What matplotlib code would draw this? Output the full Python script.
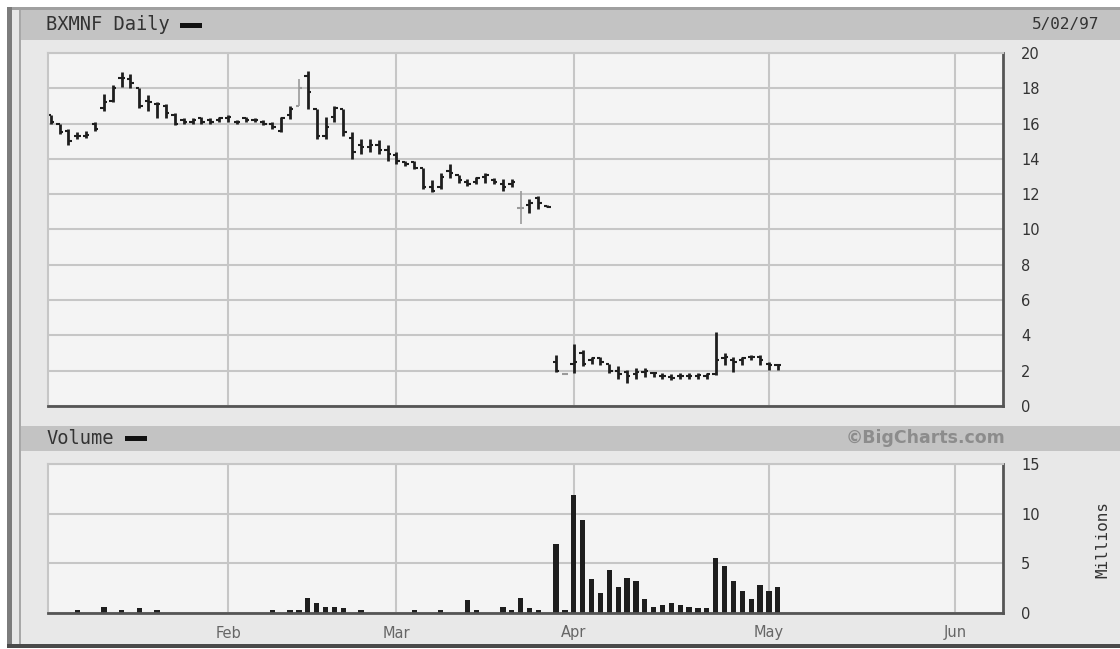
import matplotlib
matplotlib.use("Agg")
import matplotlib.pyplot as plt
from matplotlib.patches import Rectangle
import numpy as np

W, H = 1120, 649

# one value per trading day, day 0 = Jan 6 1997 ... day 82 = May 2 1997
high = [16.5, 16.0, 15.7, 15.5, 15.6, 16.1, 17.7, 18.2, 18.9, 18.8,
        18.0, 17.6, 17.2, 17.1, 16.6, 16.3, 16.3, 16.4, 16.3, 16.4,
        16.5, 16.2, 16.4, 16.3, 16.2, 16.1, 16.4, 17.0, 18.5, 19.0,
        16.8, 16.4, 17.0, 16.8, 15.5, 15.1, 15.1, 15.05, 14.8, 14.4,
        13.9, 13.9, 13.5, 12.8, 13.2, 13.7, 13.1, 12.85, 13.0, 13.2,
        12.9, 12.85, 12.85, 12.2, 11.7, 11.9, 11.4, 2.9, 1.85, 3.5,
        3.2, 2.8, 2.8, 2.4, 2.25, 2.05, 2.15, 2.15, 1.95, 1.85,
        1.8, 1.85, 1.85, 1.85, 1.85, 4.2, 3.0, 2.8, 2.8, 2.9,
        2.9, 2.5, 2.4]
low = [16.0, 15.4, 14.8, 15.1, 15.2, 15.6, 16.7, 17.2, 18.1, 18.0,
       16.9, 16.7, 16.3, 16.3, 15.9, 16.0, 16.0, 16.0, 16.0, 16.1,
       16.1, 16.0, 16.1, 16.1, 15.9, 15.7, 15.5, 16.25, 17.0, 16.8,
       15.1, 15.1, 16.1, 15.3, 14.0, 14.3, 14.4, 14.3, 13.9, 13.7,
       13.6, 13.4, 12.3, 12.1, 12.3, 12.9, 12.65, 12.45, 12.6, 12.65,
       12.55, 12.2, 12.4, 10.3, 10.95, 11.15, 11.25, 1.95, 1.75, 1.85,
       2.25, 2.4, 2.35, 1.85, 1.55, 1.3, 1.55, 1.65, 1.65, 1.55,
       1.5, 1.55, 1.55, 1.55, 1.55, 1.75, 2.35, 1.95, 2.35, 2.6,
       2.35, 2.05, 2.05]
opn = [16.5, 16.0, 15.6, 15.3, 15.3, 16.0, 16.9, 17.3, 18.6, 18.5,
       18.0, 17.3, 17.1, 17.0, 16.5, 16.2, 16.1, 16.3, 16.2, 16.2,
       16.3, 16.1, 16.3, 16.2, 16.1, 16.0, 15.6, 16.5, 17.0, 18.7,
       16.8, 15.3, 16.4, 16.8, 15.2, 14.8, 14.7, 14.8, 14.5, 14.2,
       13.8, 13.8, 13.5, 12.4, 12.4, 13.3, 13.1, 12.7, 12.7, 13.0,
       12.8, 12.6, 12.6, 11.2, 11.4, 11.8, 11.35, 2.5, 1.8, 2.4,
       3.0, 2.6, 2.7, 2.4, 2.0, 1.9, 1.8, 1.9, 1.85, 1.7,
       1.65, 1.7, 1.7, 1.7, 1.7, 1.8, 2.7, 2.6, 2.6, 2.8,
       2.8, 2.4, 2.3]
close = [16.1, 15.5, 15.0, 15.3, 15.35, 15.7, 17.2, 18.0, 18.6, 18.3,
         17.0, 17.2, 17.1, 16.6, 16.0, 16.1, 16.2, 16.1, 16.1, 16.3,
         16.4, 16.1, 16.2, 16.2, 16.0, 15.8, 16.3, 16.8, 18.0, 17.8,
         15.3, 15.8, 16.9, 15.5, 14.4, 14.7, 14.8, 14.5, 14.3, 13.9,
         13.7, 13.5, 12.4, 12.2, 13.0, 13.2, 12.8, 12.6, 12.9, 13.1,
         12.7, 12.4, 12.7, 11.2, 11.5, 11.5, 11.3, 2.0, 1.8, 2.5,
         2.4, 2.7, 2.5, 2.0, 1.8, 1.7, 1.9, 2.0, 1.85, 1.7,
         1.6, 1.7, 1.7, 1.75, 1.8, 2.6, 2.8, 2.5, 2.7, 2.8,
         2.6, 2.3, 2.3]
# millions of shares
volume = [0, 0, 0, 0.3, 0, 0, 0.6, 0, 0.3, 0,
          0.55, 0, 0.3, 0, 0, 0, 0, 0, 0, 0,
          0, 0, 0, 0, 0, 0.3, 0, 0.3, 0.3, 1.55,
          1.0, 0.6, 0.6, 0.55, 0, 0.3, 0, 0, 0, 0,
          0, 0.3, 0, 0, 0.3, 0, 0, 1.35, 0.3, 0,
          0, 0.6, 0.3, 1.55, 0.55, 0.3, 0, 6.9, 0.3, 11.9,
          9.4, 3.4, 2.0, 4.3, 2.6, 3.5, 3.2, 1.4, 0.6, 0.85,
          1.0, 0.85, 0.6, 0.55, 0.55, 5.5, 4.7, 3.2, 2.2, 1.4,
          2.8, 2.2, 2.6]

thin_days = [28, 53, 58]
month_labels = ["Feb", "Mar", "Apr", "May", "Jun"]
month_days = [20, 39, 59, 81, 102]
price_ticks = [0, 2, 4, 6, 8, 10, 12, 14, 16, 18, 20]
vol_ticks = [0, 5, 10, 15]

days = np.arange(len(high))


def frac(x0, y0, x1, y1):
    return [x0 / W, 1 - y1 / H, (x1 - x0) / W, (y1 - y0) / H]


def box(fig, x0, y0, x1, y1, color):
    fig.patches.append(Rectangle((x0 / W, 1 - y1 / H), (x1 - x0) / W, (y1 - y0) / H,
                                 transform=fig.transFigure, color=color, lw=0, zorder=-5))


fig = plt.figure(figsize=(W / 100, H / 100), dpi=100, facecolor="white")

# frame and header bands
box(fig, 7, 7, W, 648, "#e8e8e8")
box(fig, 7, 7, 12, 648, "#7c7c7c")
box(fig, 12, 7, W, 10, "#a0a0a0")
box(fig, 19, 10, 21, 648, "#a8a8a8")
box(fig, 21, 10, W, 40, "#c3c3c3")
box(fig, 21, 426, W, 451, "#c3c3c3")
box(fig, 7, 644, W, 648, "#4a4a4a")
box(fig, 180, 23, 202, 28, "#111111")
box(fig, 125, 436, 147, 441, "#111111")

mono = "DejaVu Sans Mono"
fig.text(46 / W, 1 - 25 / H, "BXMNF Daily", family=mono, fontsize=13.5, color="#333333", va="center")
fig.text(1032 / W, 1 - 25 / H, "5/02/97", family=mono, fontsize=11.5, color="#333333", va="center")
fig.text(46 / W, 1 - 438 / H, "Volume", family=mono, fontsize=13.5, color="#333333", va="center")
fig.text(1005 / W, 1 - 438 / H, "\u00a9BigCharts.com", fontsize=12.5, fontweight="bold",
         color="#8c8c8c", va="center", ha="right")
fig.text(1103 / W, 1 - 540 / H, "Millions", family=mono, fontsize=11.5, color="#333333",
         rotation=90, va="center", ha="center")


def style(ax):
    ax.set_facecolor("#f4f4f4")
    ax.set_xlim(-0.3, 107.4)
    ax.set_xticks(month_days)
    ax.grid(True, color="#c6c6c6", lw=1.5)
    ax.set_axisbelow(True)
    for s in ["top", "left"]:
        ax.spines[s].set_color("#c6c6c6")
        ax.spines[s].set_linewidth(1.5)
    for s in ["right", "bottom"]:
        ax.spines[s].set_color("#555555")
        ax.spines[s].set_linewidth(2)
    ax.yaxis.tick_right()
    ax.tick_params(length=0, labelcolor="#333333", labelsize=10.5)
    ax.tick_params(axis="y", pad=13)


# price panel
ax = fig.add_axes(frac(48, 53, 1003, 406))
style(ax)
ax.set_ylim(0, 20)
ax.set_yticks(price_ticks)
ax.set_xticklabels([])
cols = ["#9a9a9a" if d in thin_days else "#1e1e1e" for d in days]
lws = [1.2 if d in thin_days else 2.0 for d in days]
ax.vlines(days, low, high, colors=cols, lw=lws)
ax.hlines(opn, days - 0.38, days, colors=cols, lw=1.5)
ax.hlines(close, days, days + 0.38, colors=cols, lw=1.5)

# volume panel
ax2 = fig.add_axes(frac(48, 464, 1003, 613))
style(ax2)
ax2.set_ylim(0, 15)
ax2.set_yticks(vol_ticks)
ax2.bar(days, volume, width=0.6, color="#1e1e1e")
ax2.set_xticklabels(month_labels, color="#666666", fontsize=10.5)
ax2.tick_params(axis="x", pad=9)

fig.savefig("out.png", dpi=100, facecolor="white")
